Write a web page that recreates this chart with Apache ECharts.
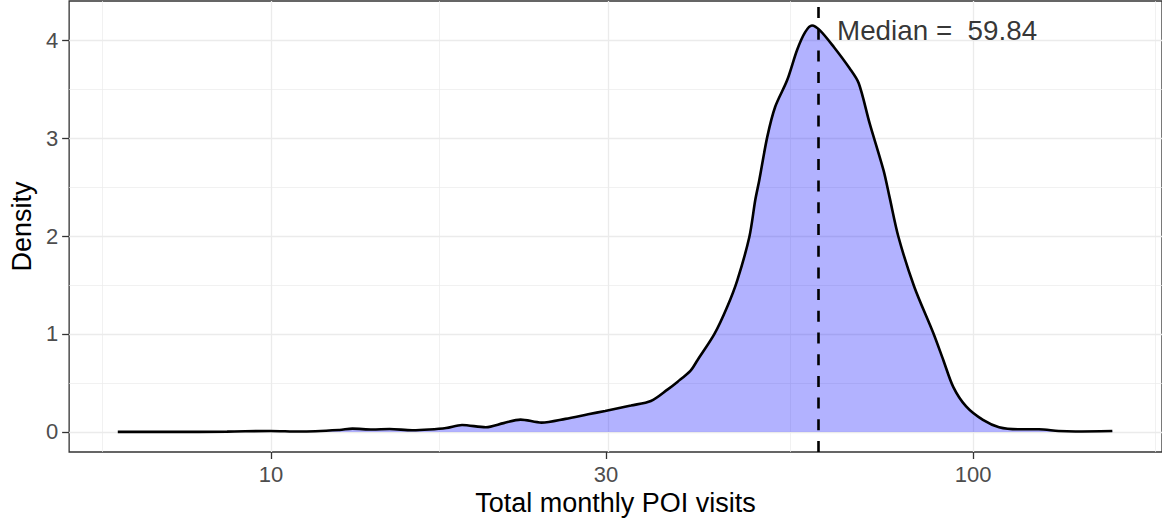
<!DOCTYPE html>
<html>
<head>
<meta charset="utf-8">
<script src="https://cdn.jsdelivr.net/npm/echarts@6/dist/echarts.min.js"></script>
<style>
  html, body { margin: 0; padding: 0; background: #ffffff; }
  #chart { width: 1162px; height: 523px; }
</style>
</head>
<body>
<div id="chart"></div>
<script>
// ---- data ----
const visits = [6.05, 7.19, 8.66, 9.97, 10.99, 12.52, 13.06, 13.95, 14.75, 15.89, 16.80, 17.76, 18.71,
  20.23, 21.45, 22.67, 24.28, 26.27, 28.30, 29.92, 32.56, 34.76, 36.74, 37.96, 39.60, 40.52, 42.82,
  44.67, 46.16, 48.01, 48.96, 49.60, 50.91, 52.26, 54.34, 56.15, 57.63, 58.96, 60.52, 63.34, 66.74,
  68.73, 71.24, 74.56, 76.03, 78.30, 82.48, 87.77, 90.69, 93.70, 97.75, 103.3, 108.9, 116.2, 124.1,
  132.4, 139.9, 157.9];
const density = [0.000, 0.000, 0.003, 0.010, 0.004, 0.020, 0.034, 0.024, 0.030, 0.017, 0.024, 0.040, 0.071,
  0.048, 0.090, 0.126, 0.095, 0.133, 0.180, 0.214, 0.270, 0.316, 0.435, 0.513, 0.626, 0.735, 1.000,
  1.280, 1.550, 1.990, 2.370, 2.570, 3.010, 3.320, 3.590, 3.900, 4.080, 4.150, 4.100, 3.930, 3.710,
  3.560, 3.150, 2.670, 2.400, 1.990, 1.480, 1.010, 0.735, 0.460, 0.260, 0.122, 0.048, 0.027, 0.027,
  0.010, 0.005, 0.010];
const medianValue = 59.84;
const xTickValues = [10, 30, 100];
const yTickValues = [0, 1, 2, 3, 4];
const xTitle = 'Total monthly POI visits';
const yTitle = 'Density';

// ---- layout / style constants ----
const log10 = Math.log10;
const xMin = 1 + (68 - 271) / 706;
const xMax = 1 + (1167 - 271) / 706;
const yMin = -0.205, yMax = 4.40;
const annotX = 64.0, annotY = 4.1;
const FONT = "'Liberation Sans', Arial, Helvetica, sans-serif";

// major/minor breaks on log10 scale (ggplot style)
const xMajor = xTickValues.map(log10);
const xMinor = [];
{
  const b = xMajor.slice();
  const ext = [b[0] - (b[1] - b[0])].concat(b, [b[b.length - 1] + (b[b.length - 1] - b[b.length - 2])]);
  for (let i = 0; i < ext.length - 1; i++) xMinor.push((ext[i] + ext[i + 1]) / 2);
}
const yMinor = [0.5, 1.5, 2.5, 3.5];

const gridColor = '#ebebeb';
const minorStyle = { type: 'solid', width: 0.7, color: gridColor };
const majorStyle = { type: 'solid', width: 1.3, color: gridColor };
const gridLines = []
  .concat(xMinor.filter(v => v > xMin && v < xMax).map(v => ({ xAxis: v, lineStyle: minorStyle })))
  .concat(yMinor.map(v => ({ yAxis: v, lineStyle: minorStyle })))
  .concat(xMajor.map(v => ({ xAxis: v, lineStyle: majorStyle })))
  .concat(yTickValues.map(v => ({ yAxis: v, lineStyle: majorStyle })));

const curve = visits.map((v, i) => [log10(v), density[i]]);

const chart = echarts.init(document.getElementById('chart'), null, { renderer: 'svg' });
chart.setOption({
  animation: false,
  backgroundColor: '#ffffff',
  textStyle: { fontFamily: FONT },
  grid: {
    left: 68, right: -5, top: 1, bottom: 71,
    show: true, borderColor: '#333333', borderWidth: 1.3, backgroundColor: '#ffffff'
  },
  xAxis: {
    type: 'value', min: xMin, max: xMax, position: 'bottom',
    name: xTitle, nameLocation: 'middle', nameGap: 36,
    nameTextStyle: { fontSize: 27, color: '#000000', fontFamily: FONT },
    axisLine: { show: false, onZero: false },
    splitLine: { show: false },
    axisTick: { show: true, customValues: xMajor, length: 7, lineStyle: { color: '#333333', width: 1.3 } },
    axisLabel: {
      customValues: xMajor, margin: 11, fontSize: 22, color: '#4d4d4d', fontFamily: FONT,
      formatter: v => String(Math.round(Math.pow(10, v)))
    }
  },
  yAxis: {
    type: 'value', min: yMin, max: yMax, position: 'left',
    name: yTitle, nameLocation: 'middle', nameGap: 34, nameRotate: 90,
    nameTextStyle: { fontSize: 27, color: '#000000', fontFamily: FONT },
    axisLine: { show: false, onZero: false },
    splitLine: { show: false },
    axisTick: { show: true, customValues: yTickValues, length: 7, lineStyle: { color: '#333333', width: 1.3 } },
    axisLabel: { customValues: yTickValues, margin: 11, fontSize: 22, color: '#4d4d4d', fontFamily: FONT }
  },
  series: [
    {
      type: 'line', data: [], z: 1, silent: true,
      markLine: { z: 1, silent: true, symbol: 'none', label: { show: false }, data: gridLines, animation: false }
    },
    {
      type: 'line', data: curve, z: 3, smooth: 0.3, showSymbol: false, silent: true,
      lineStyle: { color: '#000000', width: 2.6 },
      areaStyle: { color: '#0000ff', opacity: 0.3 },
      markLine: {
        z: 5, silent: true, symbol: 'none', label: { show: false }, animation: false,
        lineStyle: { color: '#000000', width: 2.6, type: [11, 10.7] },
        data: [{ xAxis: log10(medianValue) }]
      }
    },
    {
      type: 'scatter', z: 6, silent: true, symbolSize: 0,
      data: [[log10(annotX), annotY]],
      label: {
        show: true, position: 'right', distance: 0,
        formatter: () => 'Median =  ' + medianValue.toFixed(2),
        fontSize: 27.8, color: '#000000', fontFamily: FONT
      }
    }
  ]
});
</script>
</body>
</html>
